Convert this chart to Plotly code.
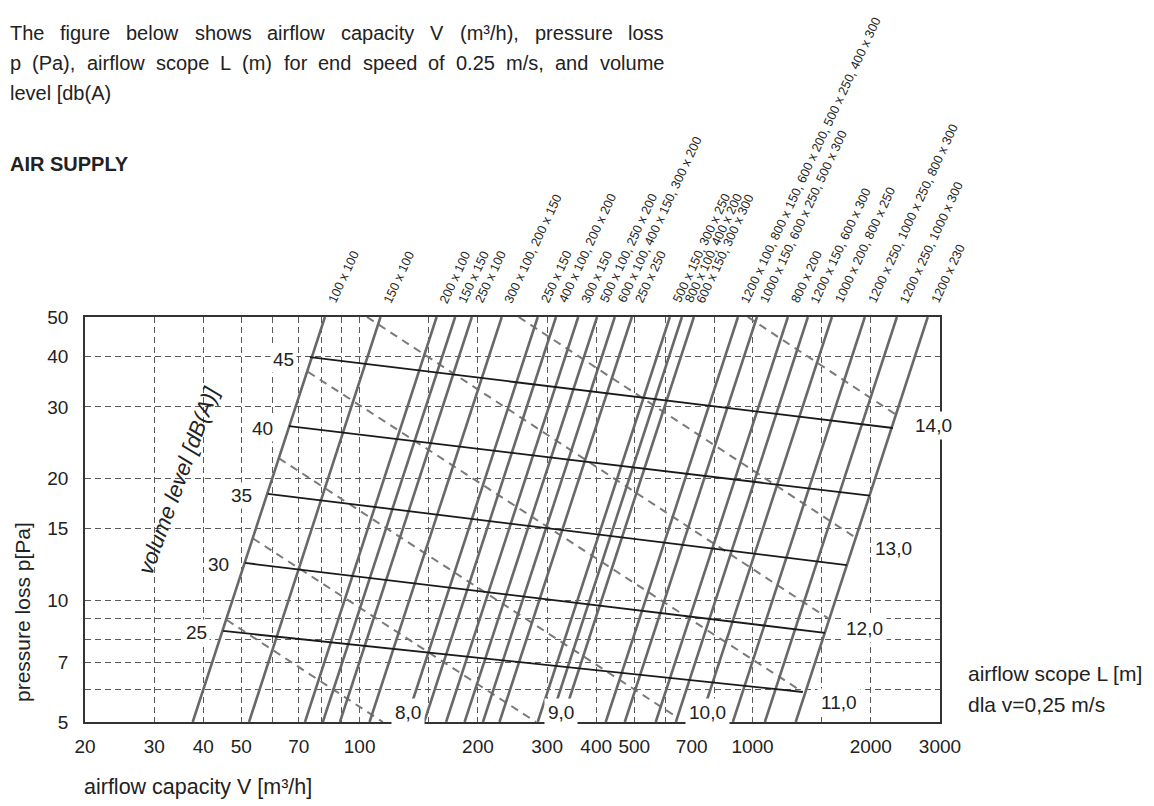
import math
import plotly.graph_objects as go

# ---------------- data ----------------
duct_sizes = [
    "100 x 100", "150 x 100", "200 x 100", "150 x 150", "250 x 100",
    "300 x 100, 200 x 150", "250 x 150", "400 x 100, 200 x 200", "300 x 150",
    "500 x 100, 250 x 200", "600 x 100, 400 x 150, 300 x 200", "250 x 250",
    "500 x 150, 300 x 250", "800 x 100, 400 x 200", "600 x 150, 300 x 300",
    "1200 x 100, 800 x 150, 600 x 200, 500 x 250, 400 x 300",
    "1000 x 150, 600 x 250, 500 x 300", "800 x 200", "1200 x 150, 600 x 300",
    "1000 x 200, 800 x 250", "1200 x 250, 1000 x 250, 800 x 300",
    "1200 x 250, 1000 x 300", "1200 x 230",
]
# airflow (m3/h) of each duct line at the bottom (5 Pa) and top (50 Pa)
duct_p_low = 5
duct_p_high = 50
flow_at_5pa = [37.6, 52.3, 72.6, 80.6, 89.1, 106, 131, 146, 166, 185, 206, 227,
               284, 305, 327, 423, 473, 567, 638, 734, 891, 1075, 1288]
flow_at_50pa = [81.6, 113, 157, 175, 193, 230, 284, 316, 360, 402, 446, 493,
                616, 661, 709, 918, 1026, 1230, 1383, 1592, 1931, 2330, 2792]

# volume level lines [dB(A)]
db_levels = [25, 30, 35, 40, 45]
db_flow_start = [44.9, 51.1, 58.4, 66.1, 74.7]
db_p_start = [8.39, 12.35, 18.3, 26.9, 39.8]
db_flow_end = [1342, 1528, 1738, 1988, 2276]
db_p_end = [5.93, 8.3, 12.2, 18.1, 26.6]

# airflow scope L [m] lines (dashed)
scope_labels = ["8,0", "9,0", "10,0", "11,0", "12,0", "13,0", "14,0"]
scope_flow_start = [45.9, 53.5, 62.3, 73.9, 104.4, 254, 973]
scope_p_start = [8.93, 14.2, 22.4, 36.6, 50, 50, 50]
scope_flow_end = [114.6, 281, 642, 1342, 1554, 1842, 2330]
scope_p_end = [5, 5, 5.14, 5.93, 9.03, 14.2, 28.6]

x_ticks = [20, 30, 40, 50, 70, 100, 200, 300, 400, 500, 700, 1000, 2000, 3000]
y_ticks = [5, 7, 10, 15, 20, 30, 40, 50]
x_grid = [30, 40, 50, 60, 70, 80, 90, 100, 150, 200, 300, 400, 500, 600, 800, 1000, 1500, 2000]
y_grid = [6, 7, 8, 9, 10, 15, 20, 30, 40]

para_lines = [
    "The figure below shows airflow capacity V (m³/h), pressure loss",
    "p (Pa), airflow scope L (m) for end speed of 0.25 m/s, and volume",
    "level [db(A)",
]

# ---------------- styling / layout ----------------
OFF = 8                      # page body margin of the html page
W, H = 1154 - OFF, 806 - OFF
ML, MT = 85 - OFF, 317 - OFF
PLOT_R, PLOT_B = 940 - OFF, 722 - OFF
MR, MB = W - PLOT_R, H - PLOT_B
PW, PH = W - ML - MR, H - MT - MB
SANS = "Liberation Sans, Arial, sans-serif"
TXT = "#222222"


def px2paper(wx, wy):
    fx, fy = wx - OFF, wy - OFF
    return (fx - ML) / PW, (H - MB - fy) / PH


AFM = {' ': 278, '(': 333, ')': 333, ',': 278, '.': 278, '/': 278, '[': 278, ']': 278,
       '³': 333, '=': 584, 'L': 556, 'P': 667, 'T': 611, 'V': 667, 'A': 667,
       'a': 556, 'b': 556, 'c': 500, 'd': 556, 'e': 556, 'f': 278, 'g': 556, 'h': 556,
       'i': 222, 'j': 222, 'k': 500, 'l': 222, 'm': 833, 'n': 556, 'o': 556, 'p': 556,
       'q': 556, 'r': 333, 's': 500, 't': 278, 'u': 556, 'v': 500, 'w': 722, 'x': 500,
       'y': 500, 'z': 500}


def text_w(s, size):
    return sum(AFM.get(ch, 556) for ch in s) * size / 1000.0


fig = go.Figure()

# dashed airflow-scope lines
for i in range(len(scope_labels)):
    fig.add_trace(go.Scatter(
        x=[scope_flow_start[i], scope_flow_end[i]], y=[scope_p_start[i], scope_p_end[i]],
        mode="lines", line=dict(color="#7a7a7a", width=2, dash="8px,6px"),
        hoverinfo="skip", showlegend=False))

# duct lines
for i in range(len(duct_sizes)):
    fig.add_trace(go.Scatter(
        x=[flow_at_5pa[i], flow_at_50pa[i]], y=[duct_p_low, duct_p_high],
        mode="lines", line=dict(color="#686868", width=2.6),
        name=duct_sizes[i], hoverinfo="name", showlegend=False))

# volume level lines
for i in range(len(db_levels)):
    fig.add_trace(go.Scatter(
        x=[db_flow_start[i], db_flow_end[i]], y=[db_p_start[i], db_p_end[i]],
        mode="lines", line=dict(color="#1a1a1a", width=1.8),
        hoverinfo="skip", showlegend=False))

ann = []
# duct size labels above plot
for i, lab in enumerate(duct_sizes):
    ann.append(dict(x=math.log10(flow_at_50pa[i]), y=1, xref="x", yref="paper",
                    text=lab, showarrow=False, textangle=-65,
                    xanchor="left", yanchor="bottom", xshift=-2, yshift=9,
                    font=dict(family=SANS, size=12.7, color=TXT)))

# dB labels
for i, lv in enumerate(db_levels):
    ann.append(dict(x=math.log10(db_flow_start[i]), y=math.log10(db_p_start[i]),
                    text=str(lv), showarrow=False, xanchor="right", yanchor="middle",
                    xshift=-13, yshift=-2, bgcolor="white", borderpad=2,
                    font=dict(family=SANS, size=19, color=TXT)))

# scope labels
for i, lab in enumerate(scope_labels):
    if scope_p_end[i] < 5.5:
        ann.append(dict(x=math.log10(scope_flow_end[i]), y=math.log10(5),
                        text=lab, showarrow=False, xanchor="left", yanchor="middle",
                        xshift=8, yshift=10, bgcolor="white", borderpad=3,
                        font=dict(family=SANS, size=19, color=TXT)))
    else:
        ann.append(dict(x=math.log10(scope_flow_end[i]), y=math.log10(scope_p_end[i]),
                        text=lab, showarrow=False, xanchor="left", yanchor="middle",
                        xshift=14, yshift=-10, bgcolor="white", borderpad=3,
                        font=dict(family=SANS, size=19, color=TXT)))

# rotated "volume level" label
vx, vy = px2paper(178, 480)
ann.append(dict(x=vx, y=vy, xref="paper", yref="paper", text="<i>volume level [dB(A)]</i>",
                showarrow=False, textangle=-70, xanchor="center", yanchor="middle",
                font=dict(family=SANS, size=22, color=TXT)))

# axis titles
tx, ty = px2paper(82, 787)
ann.append(dict(x=tx, y=ty, xref="paper", yref="paper", text="airflow capacity V [m³/h]",
                showarrow=False, xanchor="left", yanchor="middle",
                font=dict(family=SANS, size=21.5, color=TXT)))
tx, ty = px2paper(22, 612)
ann.append(dict(x=tx, y=ty, xref="paper", yref="paper", text="pressure loss p[Pa]",
                showarrow=False, textangle=-90, xanchor="center", yanchor="middle",
                font=dict(family=SANS, size=21, color=TXT)))

# right side note
for txt, py in [("airflow scope L [m]", 673), ("dla v=0,25 m/s", 704)]:
    tx, ty = px2paper(966, py)
    ann.append(dict(x=tx, y=ty, xref="paper", yref="paper", text=txt, showarrow=False,
                    xanchor="left", yanchor="middle",
                    font=dict(family=SANS, size=21, color=TXT)))

# paragraph (justified lines)
PSIZE = 20
para_y = [33, 63, 93]
left_px, right_px = 9, 663
for li, line in enumerate(para_lines):
    words = line.split(" ")
    if li < 2:
        widths = [text_w(w_, PSIZE) for w_ in words]
        gap = (right_px - left_px - sum(widths)) / (len(words) - 1)
        cur = left_px
        for w_, wd in zip(words, widths):
            tx, ty = px2paper(cur, para_y[li])
            ann.append(dict(x=tx, y=ty, xref="paper", yref="paper", text=w_, showarrow=False,
                            xanchor="left", yanchor="middle", borderpad=0,
                            font=dict(family=SANS, size=PSIZE, color=TXT)))
            cur += wd + gap
    else:
        tx, ty = px2paper(left_px, para_y[li])
        ann.append(dict(x=tx, y=ty, xref="paper", yref="paper", text=line, showarrow=False,
                        xanchor="left", yanchor="middle", borderpad=0,
                        font=dict(family=SANS, size=PSIZE, color=TXT)))

tx, ty = px2paper(9, 164)
ann.append(dict(x=tx, y=ty, xref="paper", yref="paper", text="<b>AIR SUPPLY</b>",
                showarrow=False, xanchor="left", yanchor="middle", borderpad=0,
                font=dict(family=SANS, size=20, color=TXT)))

eps = 1e-6
fig.update_layout(
    width=W, height=H, autosize=False,
    margin=dict(l=ML, r=MR, t=MT, b=MB, pad=0),
    paper_bgcolor="white", plot_bgcolor="white",
    showlegend=False,
    annotations=ann,
    xaxis=dict(type="log", range=[math.log10(20) - eps, math.log10(3000) + eps],
               tickmode="array", tickvals=x_ticks, ticktext=[str(v) for v in x_ticks],
               showgrid=False, zeroline=False, showline=True, mirror=True,
               linecolor="#333333", linewidth=1.6, ticks="", ticklabelstandoff=6,
               tickfont=dict(family=SANS, size=19, color=TXT),
               minor=dict(tickmode="array", tickvals=x_grid, showgrid=True,
                          gridcolor="#5a5a5a", gridwidth=1, griddash="6px,4px", ticks="")),
    yaxis=dict(type="log", range=[math.log10(5) - eps, math.log10(50) + eps],
               tickmode="array", tickvals=y_ticks, ticktext=[str(v) for v in y_ticks],
               showgrid=False, zeroline=False, showline=True, mirror=True,
               linecolor="#333333", linewidth=1.6, ticks="", ticklabelstandoff=11,
               tickfont=dict(family=SANS, size=19, color=TXT),
               minor=dict(tickmode="array", tickvals=y_grid, showgrid=True,
                          gridcolor="#5a5a5a", gridwidth=1, griddash="6px,4px", ticks="")),
)

fig.write_html("out.html")
